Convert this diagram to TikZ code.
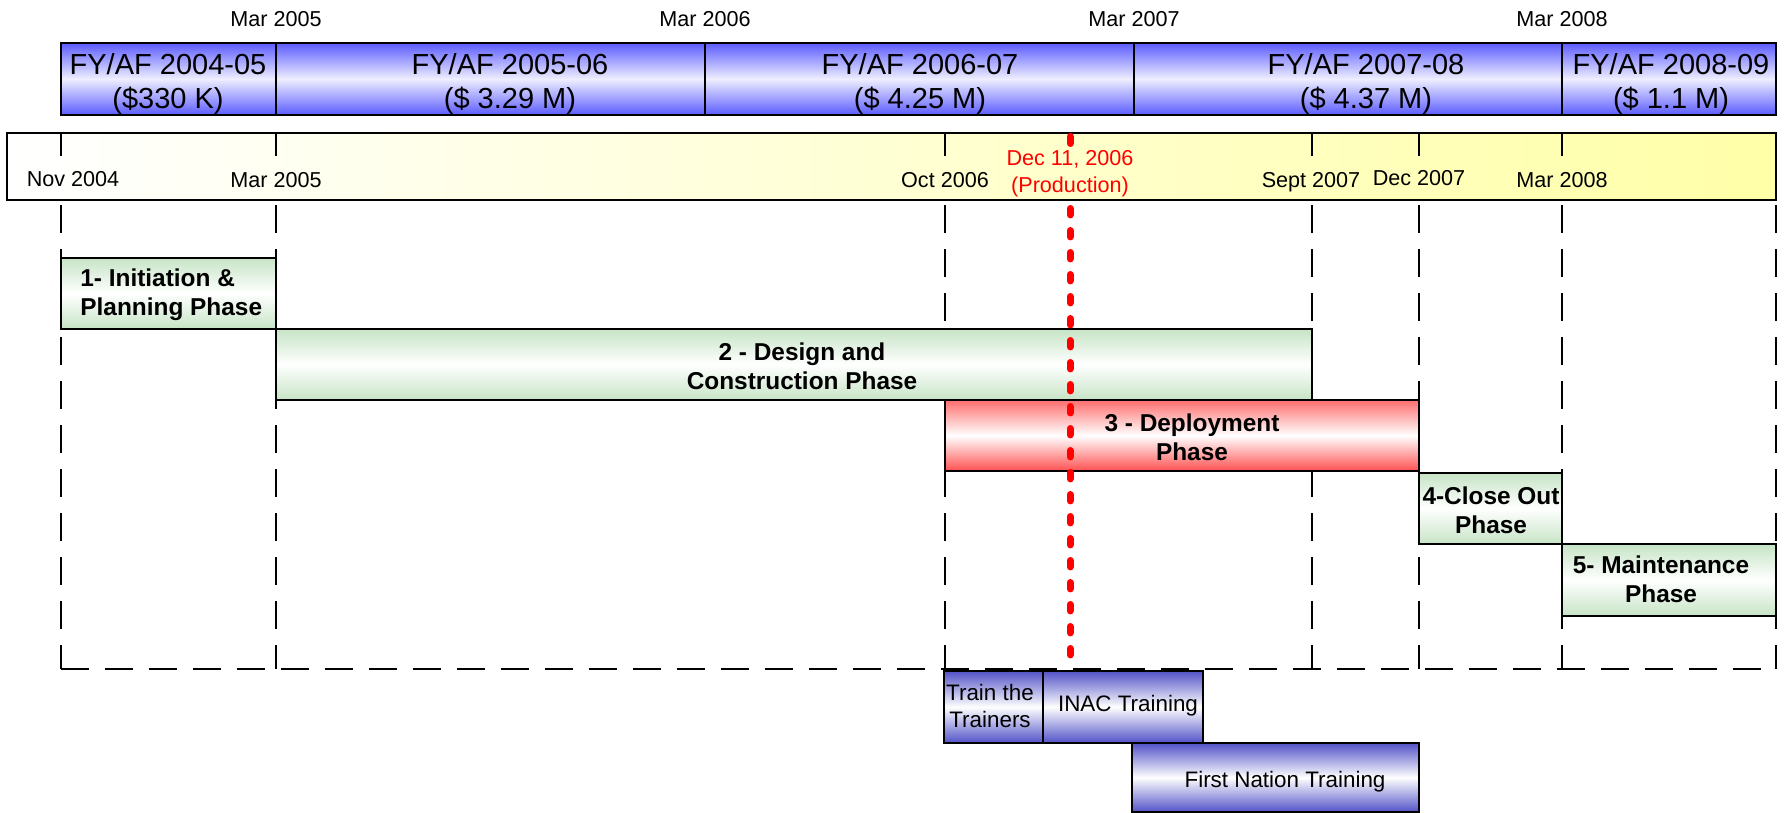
\documentclass[tikz,border=0pt]{standalone}
\usepackage{fontspec}
\setmainfont{Liberation Sans}
\usetikzlibrary{positioning}

\definecolor{fyblue}{RGB}{92,92,255}
\definecolor{fymid}{RGB}{238,238,255}
\definecolor{trblue}{RGB}{82,82,200}
\definecolor{phgreen}{RGB}{198,228,198}
\definecolor{phredtop}{RGB}{255,110,110}
\definecolor{phredbot}{RGB}{255,80,80}
\definecolor{tlyellow}{RGB}{255,255,168}
\definecolor{prodred}{RGB}{255,0,0}

\begin{document}
\begin{tikzpicture}[x=.5pt,y=-.5pt,
  fybox/.style={draw,line width=.8pt,top color=fyblue,bottom color=fyblue,middle color=fymid},
  phbox/.style={draw,line width=.8pt,top color=phgreen,bottom color=phgreen,middle color=white},
  redbox/.style={draw,line width=.8pt,top color=phredtop,bottom color=phredbot,middle color=white},
  trbox/.style={draw,line width=.8pt,top color=trblue,bottom color=trblue,middle color=white},
  guide/.style={line width=.7pt,dash pattern=on 14pt off 8pt},
  prodline/.style={prodred,line width=3.5pt,line cap=round},
  datelbl/.style={font=\fontsize{10.8}{13.5}\selectfont,anchor=base,inner sep=0pt},
  fylbl/.style={font=\fontsize{14.5}{17}\selectfont,align=center,inner sep=0pt},
  phlbl/.style={font=\fontsize{12.2}{14.5}\selectfont\bfseries,align=center,inner sep=0pt},
  trlbl/.style={font=\fontsize{11.2}{13.7}\selectfont,align=center,inner sep=0pt}]
\useasboundingbox (0,0) rectangle (1784,813);

% dashed guides
\foreach \x in {61,276,945,1312,1419,1562,1776}
  \draw[guide] (\x,205) -- (\x,669);
\draw[guide] (61,669) -- (1776,669);

% fiscal years
\draw[fybox] (61,43) rectangle (1776,115);
\foreach \x in {276,705,1134,1562}
  \draw[line width=.8pt] (\x,43) -- (\x,115);
\foreach \x/\t in {276/05,705/06,1134/07,1562/08}
  \node[datelbl] (top\t) at (\x,27) {Mar 20\t};
\node[fylbl] (fy1) at (168,84) {FY/AF 2004-05\\(\$330 K)};
\node[fylbl] (fy2) at (510,84) {FY/AF 2005-06\\(\$ 3.29 M)};
\node[fylbl] (fy3) at (920,84) {FY/AF 2006-07\\(\$ 4.25 M)};
\node[fylbl] (fy4) at (1366,84) {FY/AF 2007-08\\(\$ 4.37 M)};
\node[fylbl] (fy5) at (1671,84) {FY/AF 2008-09\\(\$ 1.1 M)};

% time line
\draw[line width=.8pt,left color=white,right color=tlyellow] (7,133) rectangle (1776,200);
\foreach \x in {61,276,945,1312,1419,1562}
  \draw[line width=.7pt] (\x,133) -- (\x,156);
\node[datelbl] (nov04) at (73,186) {Nov 2004};
\node[datelbl] (mar05) at (276,187) {Mar 2005};
\node[datelbl] (oct06) at (945,188) {Oct 2006};
\node[datelbl] (sep07) at (1311,188) {Sept 2007};
\node[datelbl] (dec07) at (1419,185) {Dec 2007};
\node[datelbl] (mar08) at (1562,187) {Mar 2008};
\node[datelbl,anchor=center,align=center,text=prodred] (prod) at (1070,174)
  {Dec 11, 2006\\(Production)};

% phases
\draw[phbox] (61,258) rectangle (276,329);
\draw[phbox] (276,329) rectangle (1312,400);
\draw[redbox] (945,400) rectangle (1419,471);
\draw[phbox] (1419,473) rectangle (1562,544);
\draw[phbox] (1562,544) rectangle (1776,616);
\node[phlbl,align=left,anchor=west] (ph1) at (80,295) {1- Initiation \&\\Planning Phase};
\node[phlbl] (ph2) at (802,366) {2 - Design and\\Construction Phase};
\node[phlbl] (ph3) at (1192,437) {3 - Deployment\\Phase};
\node[phlbl] (ph4) at (1491,510) {4-Close Out\\Phase};
\node[phlbl] (ph5) at (1661,579) {5- Maintenance\\Phase};

% production date
\draw[prodline] (1070,136.5) -- (1070,143.5);
\draw[prodline,dash pattern=on 3.2pt off 7.8pt] (1070,208.5) -- (1070,668);

% training
\draw[trbox] (944,671) rectangle (1043,743);
\draw[trbox] (1043,671) rectangle (1203,743);
\draw[trbox] (1132,743) rectangle (1419,812);
\node[trlbl] (ttt) at (990,706) {Train the\\Trainers};
\node[trlbl] (inac) at (1128,706) {INAC Training};
\node[trlbl] (fnt) at (1285,782) {First Nation Training};
\end{tikzpicture}
\end{document}
